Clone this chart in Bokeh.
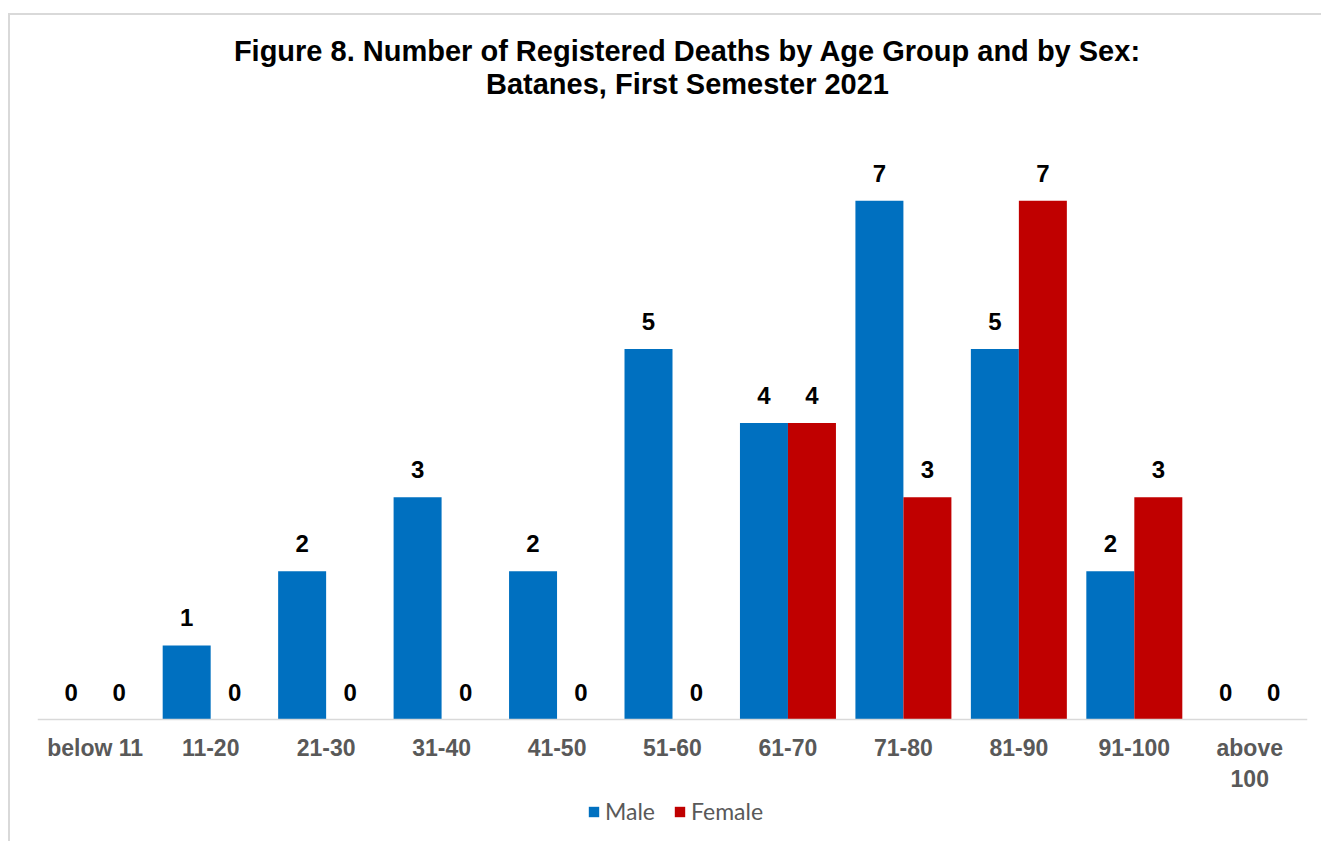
from bokeh.plotting import figure
from bokeh.models import (FactorRange, Range1d, ColumnDataSource, Legend, LegendItem,
                          Label, LabelSet)
from bokeh.transform import dodge
from bokeh.core.properties import value
from bokeh.embed import file_html
from bokeh.resources import INLINE

categories = ["below 11", "11-20", "21-30", "31-40", "41-50", "51-60",
              "61-70", "71-80", "81-90", "91-100", "above\n100"]
male = [0, 1, 2, 3, 2, 5, 4, 7, 5, 2, 0]
female = [0, 0, 0, 0, 0, 0, 4, 3, 7, 3, 0]
series_names = ["Male", "Female"]
title_lines = ["Figure 8. Number of Registered Deaths by Age Group and by Sex:",
               "Batanes, First Semester 2021"]

MALE_C = "#0070C0"
FEMALE_C = "#C00000"
BW = 0.4157
FONT = "Liberation Sans"

# layout (pixels)
W, H = 1313, 828
BASE = 704          # y pixel of the zero line inside the canvas
PPU = 74.125        # pixels per unit

src = ColumnDataSource(dict(
    cat=categories, male=male, female=female,
    male_txt=[str(v) for v in male], female_txt=[str(v) for v in female],
))

p = figure(
    x_range=FactorRange(*categories),
    y_range=Range1d(-(H - BASE) / PPU, BASE / PPU),
    width=W, height=H, output_backend="svg", toolbar_location=None,
    y_axis_location=None,
    min_border_left=27, min_border_right=16, min_border_top=0, min_border_bottom=0,
    margin=(13, 0, 0, 8),
    styles={"border-left": "2px solid #d9d9d9", "border-top": "2px solid #d9d9d9"},
)
p.outline_line_color = None
p.xgrid.visible = False
p.ygrid.visible = False
p.x_range.range_padding = 0

rm = p.vbar(x=dodge("cat", -BW / 2, range=p.x_range), top="male", width=BW,
            source=src, fill_color=MALE_C, line_color=None)
rf = p.vbar(x=dodge("cat", BW / 2, range=p.x_range), top="female", width=BW,
            source=src, fill_color=FEMALE_C, line_color=None)

for field, off in (("male", -BW / 2), ("female", BW / 2)):
    p.add_layout(LabelSet(x=dodge("cat", off, range=p.x_range), y=field,
                          text=field + "_txt", source=src,
                          text_align="center", text_baseline="alphabetic", y_offset=19,
                          text_font=value(FONT), text_font_style="bold",
                          text_font_size="24px", text_color="#000000"))

ax = p.xaxis[0]
ax.fixed_location = 0
ax.axis_line_color = "#d9d9d9"
ax.axis_line_width = 1.5
ax.major_tick_line_color = None
ax.minor_tick_line_color = None
ax.major_tick_out = 0
ax.major_label_standoff = 15
ax.major_label_text_font = FONT
ax.major_label_text_font_style = "bold"
ax.major_label_text_font_size = "23px"
ax.major_label_text_color = "#595959"

TS = "29px"
for txt, yy in zip(title_lines, (H - 61 + 26, H - 93 + 25)):
    p.add_layout(Label(x=650, y=yy, x_units="screen", y_units="screen", text=txt,
                       text_align="center", text_baseline="alphabetic",
                       text_font=FONT, text_font_style="bold",
                       text_font_size=TS, text_color="#000000"))

legend = Legend(
    items=[LegendItem(label=series_names[0], renderers=[rm]),
           LegendItem(label=series_names[1], renderers=[rf])],
    location=(550, 18), orientation="horizontal",
    glyph_width=13, glyph_height=13, label_standoff=5, spacing=18,
    padding=0, margin=0, border_line_color=None, background_fill_alpha=0,
    label_text_font="Lato", label_text_font_size="23px", label_text_color="#595959",
)
p.add_layout(legend)

open("out.html", "w").write(file_html(p, INLINE))
